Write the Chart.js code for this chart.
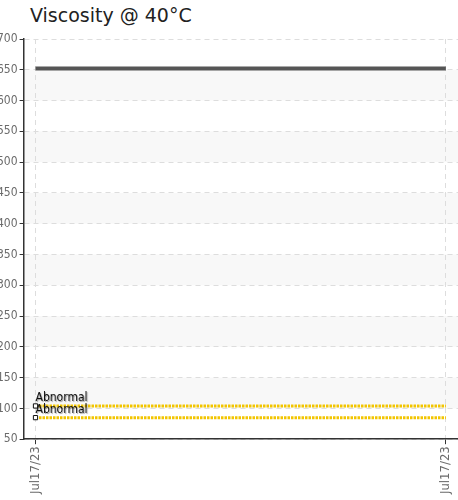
<!DOCTYPE html>
<html>
<head>
<meta charset="utf-8">
<script src="https://cdn.jsdelivr.net/npm/chart.js@4.4.0/dist/chart.umd.min.js"></script>
<style>
  html, body { margin: 0; padding: 0; background: #fff; overflow: hidden; }
  #title {
    position: absolute; left: 30px; top: 4px;
    font-family: "DejaVu Sans", sans-serif; font-size: 19px; color: #222;
  }
  #wrap { position: absolute; left: -5px; top: 0; width: 469px; height: 500px; }
</style>
</head>
<body>
<div id="title">Viscosity @ 40°C</div>
<div id="wrap"><canvas id="chart"></canvas></div>
<script>
// Chart data
const dates = ['Jul17/23', 'Jul17/23'];
const viscosity = [652, 652];
const upperAbnormal = [104, 104];
const lowerAbnormal = [85, 85];
const limitLabel = 'Abnormal';

const labelFont = '"DejaVu Sans Condensed", "DejaVu Sans", sans-serif';

function toPoints(values) {
    return values.map((v, i) => ({ x: i, y: v }));
}

// Alternating grey bands behind the grid
const bandPlugin = {
    id: 'bands',
    beforeDraw(chart) {
        const { ctx, chartArea, scales: { y } } = chart;
        ctx.save();
        ctx.fillStyle = '#f8f8f8';
        y.ticks.forEach((t, i) => {
            if (i === y.ticks.length - 1) return;
            const next = y.ticks[i + 1];
            if (t.value % 100 !== 0) return;
            const top = y.getPixelForValue(next.value);
            const bottom = y.getPixelForValue(t.value);
            ctx.fillRect(chartArea.left, top, chart.width - chartArea.left, bottom - top);
        });
        ctx.restore();
    }
};

// "Abnormal" text at the start of each limit line
const limitLabelPlugin = {
    id: 'limitLabels',
    afterDatasetsDraw(chart) {
        const { ctx } = chart;
        ctx.save();
        ctx.font = '12px ' + labelFont;
        ctx.textAlign = 'left';
        ctx.textBaseline = 'alphabetic';
        ctx.fillStyle = '#111';
        ctx.shadowColor = 'rgba(0,0,0,0.4)';
        ctx.shadowOffsetX = 1;
        ctx.shadowOffsetY = 1;
        ctx.shadowBlur = 1;
        [1, 2].forEach(di => {
            const pt = chart.getDatasetMeta(di).data[0];
            ctx.fillText(limitLabel, pt.x, pt.y - 5);
        });
        ctx.restore();
    }
};

new Chart(document.getElementById('chart'), {
    type: 'line',
    data: {
        datasets: [{
            label: 'Viscosity',
            data: toPoints(viscosity),
            borderColor: '#555',
            borderWidth: 4,
            pointRadius: 0
        }, {
            label: limitLabel,
            data: toPoints(upperAbnormal),
            borderColor: '#f2c500',
            borderWidth: 3,
            borderDash: [2.5, 1],
            pointStyle: 'rect',
            pointRadius: [3, 0],
            pointBackgroundColor: '#fff',
            pointBorderColor: '#111',
            pointBorderWidth: 1
        }, {
            label: limitLabel,
            data: toPoints(lowerAbnormal),
            borderColor: '#f2c500',
            borderWidth: 3,
            borderDash: [2.5, 1],
            pointStyle: 'rect',
            pointRadius: [3, 0],
            pointBackgroundColor: '#fff',
            pointBorderColor: '#111',
            pointBorderWidth: 1
        }]
    },
    options: {
        responsive: true,
        maintainAspectRatio: false,
        animation: false,
        layout: { padding: { top: 39, bottom: 4, right: 0, left: 0 } },
        plugins: {
            legend: { display: false },
            tooltip: { enabled: false }
        },
        scales: {
            x: {
                type: 'linear',
                min: -0.029,
                max: 1.032,
                afterBuildTicks: scale => {
                    scale.ticks = dates.map((d, i) => ({ value: i }));
                },
                ticks: {
                    autoSkip: false,
                    maxRotation: 90,
                    minRotation: 90,
                    color: '#6b6b6b',
                    font: { family: labelFont, size: 13 },
                    padding: 2,
                    callback: (v, i) => dates[i]
                },
                grid: {
                    color: '#ddd',
                    tickColor: '#333',
                    tickLength: 5,
                    tickBorderDash: []
                },
                border: { display: true, color: '#333', width: 1.5, dash: [5, 4] }
            },
            y: {
                min: 50,
                max: 700,
                ticks: {
                    stepSize: 50,
                    color: '#6b6b6b',
                    font: { family: labelFont, size: 12 },
                    padding: 2
                },
                grid: {
                    color: '#ddd',
                    tickColor: '#333',
                    tickLength: 4,
                    tickBorderDash: []
                },
                border: { display: true, color: '#333', width: 1.5, dash: [5, 4] }
            }
        }
    },
    plugins: [bandPlugin, limitLabelPlugin]
});
</script>
</body>
</html>
